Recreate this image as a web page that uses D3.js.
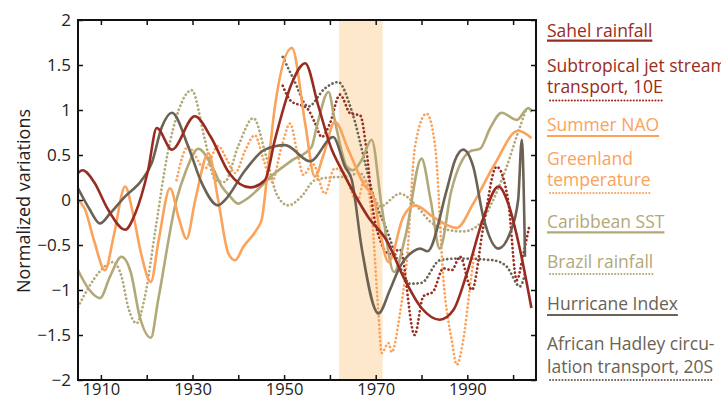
<!DOCTYPE html>
<html><head><meta charset="utf-8">
<script src="https://cdn.jsdelivr.net/npm/d3@7"></script>
<style>body{margin:0;background:#fff}svg{display:block}</style>
</head><body>
<svg id="c" width="721" height="400"></svg>
<script>
// ---------- data (year, normalized value) ----------
const sahel = [[1905,0.3],[1906,0.33],[1908.5,0.2],[1911.5,-0.1],[1915.3,-0.33],[1917.5,-0.15],[1920.3,0.33],[1922.2,0.8],[1925.5,0.56],[1930.5,0.93],[1934,0.7],[1938,0.3],[1942.6,0.14],[1945.8,0.22],[1948,0.67],[1951.7,1.3],[1954.6,1.52],[1957.5,1.04],[1960.4,0.56],[1962.2,0.37],[1965,0.1],[1968.5,-0.2],[1972.4,-0.45],[1976,-0.85],[1980,-1.2],[1984,-1.33],[1987,-1.22],[1990,-0.8],[1993.5,-0.2],[1996.8,0.15],[1999,-0.05],[2001.5,-0.55],[2004,-1.2]];
const jetStream = [[1949.7,1.27],[1951.5,1.1],[1955,1.02],[1956.8,0.85],[1958.2,0.7],[1960,0.85],[1962.2,1.17],[1964.5,0.96],[1966.6,0.94],[1968,0.55],[1969.3,-0.07],[1971,-0.45],[1973,-0.6],[1975.3,-0.55],[1978.5,-1.5],[1980.4,-1.07],[1982.5,-1.02],[1984.8,-0.76],[1986.6,-0.78],[1988.4,-0.63],[1991,-1.0],[1993.5,-0.3],[1996.4,0.37],[1998.9,0.0],[2000.8,-0.89],[2002.2,-0.61],[2003.5,-0.3]];
const summerNAO = [[1905,0.0],[1906.5,-0.1],[1908.5,-0.45],[1910.9,-0.78],[1912.8,-0.4],[1915.3,0.15],[1917,-0.15],[1918.8,-0.6],[1920.9,-0.91],[1922.6,-0.45],[1925.1,0.13],[1927,-0.2],[1928.7,-0.43],[1930.6,0.0],[1933.5,0.52],[1935.6,0.0],[1937.8,-0.59],[1939.3,-0.67],[1941.1,-0.52],[1944,-0.33],[1945.1,-0.22],[1946.2,0.22],[1948,1.04],[1951.7,1.69],[1954.6,0.85],[1956.7,0.26],[1958.6,0.5],[1961.1,0.87],[1964,0.56],[1967.7,0.15],[1969.5,0.04],[1971,-0.37],[1972.8,-0.69],[1976,-0.19],[1978.6,-0.06],[1982.6,-0.19],[1987.7,-0.31],[1991.3,-0.04],[1996,0.4],[2001.1,0.77],[2004,0.69]];
const greenland = [[1926.5,0.22],[1929,0.59],[1932.7,0.35],[1935.6,0.6],[1937.5,0.45],[1939.3,0.3],[1941.5,0.55],[1943.6,0.72],[1945.5,0.45],[1947.3,0.2],[1949.5,0.6],[1951.3,0.85],[1952.8,0.55],[1954.2,0.28],[1956.3,0.4],[1958.9,0.07],[1961,0.35],[1963,0.3],[1966,-0.02],[1967.5,0.22],[1969.1,-0.15],[1970.6,-1.26],[1971.3,-1.7],[1972.8,-1.59],[1973.5,-1.69],[1975.3,-1.26],[1976.8,-0.67],[1978.6,0.6],[1981.1,0.96],[1983,0.59],[1984.8,-0.89],[1986.6,-1.56],[1987.7,-1.83],[1989.1,-1.56],[1990.6,-0.96],[1991.5,-0.6]];
const caribbeanSST = [[1905,-0.78],[1907.5,-1.0],[1909.8,-1.09],[1912,-0.85],[1914.5,-0.63],[1916.5,-0.8],[1918.5,-1.3],[1920.9,-1.53],[1922.5,-1.11],[1926.5,0.0],[1928.4,0.3],[1931.3,0.57],[1934,0.4],[1936.4,0.15],[1938.2,0.04],[1940,-0.04],[1941.5,0.0],[1948,0.3],[1951.7,0.44],[1956,0.59],[1957.1,0.81],[1959.7,1.2],[1961,0.9],[1963.7,0.37],[1965,0.33],[1967,0.45],[1969.1,0.67],[1971.3,-0.07],[1974,-0.8],[1976.5,-0.4],[1980,0.46],[1982,0.0],[1984,-0.54],[1986.5,0.1],[1990.6,0.54],[1992.8,0.57],[1995,0.8],[1997.5,0.97],[2000.8,0.89],[2003.3,1.02],[2004,1.0]];
const brazilRain = [[1905,-1.19],[1907,-1.0],[1910,-0.78],[1912.7,-0.69],[1914.5,-0.85],[1916,-1.2],[1917.8,-1.37],[1919.5,-1.1],[1922,-0.3],[1924.5,0.5],[1927,1.0],[1929.8,1.22],[1932.7,0.67],[1935,0.22],[1937,0.2],[1940,0.6],[1943.3,0.91],[1946,0.5],[1948.5,0.05],[1950.9,-0.06],[1953.8,0.04],[1956.7,0.22],[1960,0.25],[1963.6,0.26],[1966.5,0.3],[1969,0.1],[1971,-0.07],[1975.3,0.07],[1979,-0.07],[1981.9,-0.24],[1985.5,-0.33],[1989.1,-0.35],[1992.8,-0.26],[1995,-0.07],[1998.6,0.37],[2001.5,0.81],[2003.3,1.02],[2004,0.98]];
const hurricane = [[1905,0.13],[1907.5,-0.1],[1909.8,-0.26],[1912,-0.15],[1915.3,0.04],[1918.9,0.22],[1921.1,0.41],[1923.3,0.81],[1925.5,0.97],[1929.1,0.59],[1932,0.19],[1935.6,-0.06],[1937.1,0.0],[1941.5,0.33],[1945.8,0.56],[1950.2,0.61],[1955.7,0.43],[1960.7,0.7],[1963.3,0.37],[1964.8,0.22],[1966.9,-0.52],[1970.6,-1.26],[1973.1,-1.0],[1975.3,-0.74],[1978.2,-0.57],[1979.7,-0.54],[1981.3,-0.57],[1985.5,0.11],[1987.3,0.44],[1989.1,0.56],[1991.3,0.37],[1993.5,-0.19],[1996.8,-0.54],[1999.3,-0.37],[2001.1,0.0],[2001.9,0.67],[2002.6,-0.63]];
const hadley = [[1949.7,1.59],[1952,1.35],[1955.3,1.04],[1958.9,1.24],[1961.8,1.31],[1964.7,1.0],[1967.7,0.41],[1969.5,0.04],[1972.4,-0.33],[1975.3,-0.74],[1977.5,-0.93],[1980,-0.92],[1984,-0.67],[1988,-0.65],[1995.7,-0.67],[1998.6,-0.74],[2001.5,-0.96],[2002.6,-0.82]];

const shadeYears = [1962, 1971.5];
const xTickValues = [1910,1920,1930,1940,1950,1960,1970,1980,1990,2000];
const xTickLabels = [1910,1930,1950,1970,1990];
const yTickValues = [-2,-1.5,-1,-0.5,0,0.5,1,1.5,2];

const seriesNames = ["Sahel rainfall","Subtropical jet stream transport, 10E","Summer NAO","Greenland temperature","Caribbean SST","Brazil rainfall","Hurricane Index","African Hadley circulation transport, 20S"];
const legendLines = [["Sahel rainfall"],["Subtropical jet stream","transport, 10E"],["Summer NAO"],["Greenland","temperature"],["Caribbean SST"],["Brazil rainfall"],["Hurricane Index"],["African Hadley circu-","lation transport, 20S"]];
const seriesData = [sahel, jetStream, summerNAO, greenland, caribbeanSST, brazilRain, hurricane, hadley];

// ---------- styles ----------
const RED = "#992c20", ORANGE = "#fba25b", KHAKI = "#b2a878", GREY = "#6b6253";
const seriesColor = [RED, RED, ORANGE, ORANGE, KHAKI, KHAKI, GREY, GREY];
const seriesDotted = [false, true, false, true, false, true, false, true];
const FONT = "'Open Sans', sans-serif";

const svg = d3.select("#c");
const x = d3.scaleLinear().domain([1905, 2005]).range([78, 536]);
const y = d3.scaleLinear().domain([-2, 2]).range([380, 20]);

// shaded period
svg.append("rect")
  .attr("x", x(shadeYears[0])).attr("y", y(2))
  .attr("width", x(shadeYears[1]) - x(shadeYears[0]))
  .attr("height", y(-2) - y(2))
  .attr("fill", "#fde8cb");

svg.append("clipPath").attr("id","clip").append("rect")
  .attr("x", x(1905)).attr("y", y(2)).attr("width", x(2005)-x(1905)).attr("height", y(-2)-y(2));

const line = d3.line().x(d => x(d[0])).y(d => y(d[1])).curve(d3.curveMonotoneX);
const g = svg.append("g").attr("clip-path","url(#clip)");
const order = [7,5,3,1,4,2,6,0];
order.forEach(i => {
  const p = g.append("path").datum(seriesData[i])
    .attr("d", line).attr("fill","none")
    .attr("stroke", seriesColor[i]).attr("stroke-width", 2.6);
  if (seriesDotted[i]) p.attr("stroke-dasharray","0.1 4").attr("stroke-linecap","round").attr("stroke-width",2.7);
});

// axes (ticks inward)
const fmt = d => (d < 0 ? "\u2212" : "") + Math.abs(d);
const axB = svg.append("g").attr("transform",`translate(0,${y(-2)})`)
  .call(d3.axisBottom(x).tickValues(xTickValues).tickSizeInner(-5).tickSizeOuter(0).tickPadding(3)
    .tickFormat(d => xTickLabels.includes(d) ? d : ""));
const axT = svg.append("g").attr("transform",`translate(0,${y(2)})`)
  .call(d3.axisTop(x).tickValues(xTickValues).tickSizeInner(-5).tickSizeOuter(0).tickFormat(""));
const axL = svg.append("g").attr("transform",`translate(${x(1905)},0)`)
  .call(d3.axisLeft(y).tickValues(yTickValues).tickSizeInner(-5).tickSizeOuter(0).tickPadding(7).tickFormat(fmt));
const axR = svg.append("g").attr("transform",`translate(${x(2005)},0)`)
  .call(d3.axisRight(y).tickValues(yTickValues).tickSizeInner(-5).tickSizeOuter(0).tickFormat(""));
[axB,axT,axL,axR].forEach(a => {
  a.select(".domain").remove();
  a.selectAll(".tick line").attr("stroke","#111").attr("stroke-width",1.5);
  a.selectAll("text").attr("font-family",FONT).attr("font-size",17).attr("fill","#222");
});
axB.selectAll("text").attr("font-size",16.5);
svg.append("rect").attr("x", x(1905)).attr("y", y(2)).attr("width", x(2005)-x(1905)).attr("height", y(-2)-y(2))
  .attr("fill","none").attr("stroke","#111").attr("stroke-width",2);

// y label
svg.append("text").attr("transform","translate(30,201) rotate(-90)")
  .attr("text-anchor","middle").attr("font-family",FONT).attr("font-size",18).attr("fill","#222")
  .text("Normalized variations");

// legend
const legendBaselines = [[37],[71.5,93],[131],[164.5,186],[228],[268],[310],[350,373]];
const legendUnder = [40.7,100.5,136,193,232.3,274,315,380];
const lg = svg.append("g");
legendLines.forEach((lines, i) => {
  const t = lg.append("text").attr("font-family",FONT).attr("font-size",17.5).attr("fill",seriesColor[i]);
  let lastW = 0;
  lines.forEach((s, j) => {
    const ts = t.append("tspan").attr("x",547).attr("y",legendBaselines[i][j]).text(s);
    lastW = ts.node().getComputedTextLength();
  });
  const l = lg.append("line").attr("x1",547).attr("x2",547+lastW)
    .attr("y1",legendUnder[i]).attr("y2",legendUnder[i]).attr("stroke",seriesColor[i]);
  if (seriesDotted[i]) l.attr("x1",550).attr("stroke-width",2).attr("stroke-dasharray","0.1 3").attr("stroke-linecap","round");
  else l.attr("stroke-width",2.2);
});
</script>
</body></html>
